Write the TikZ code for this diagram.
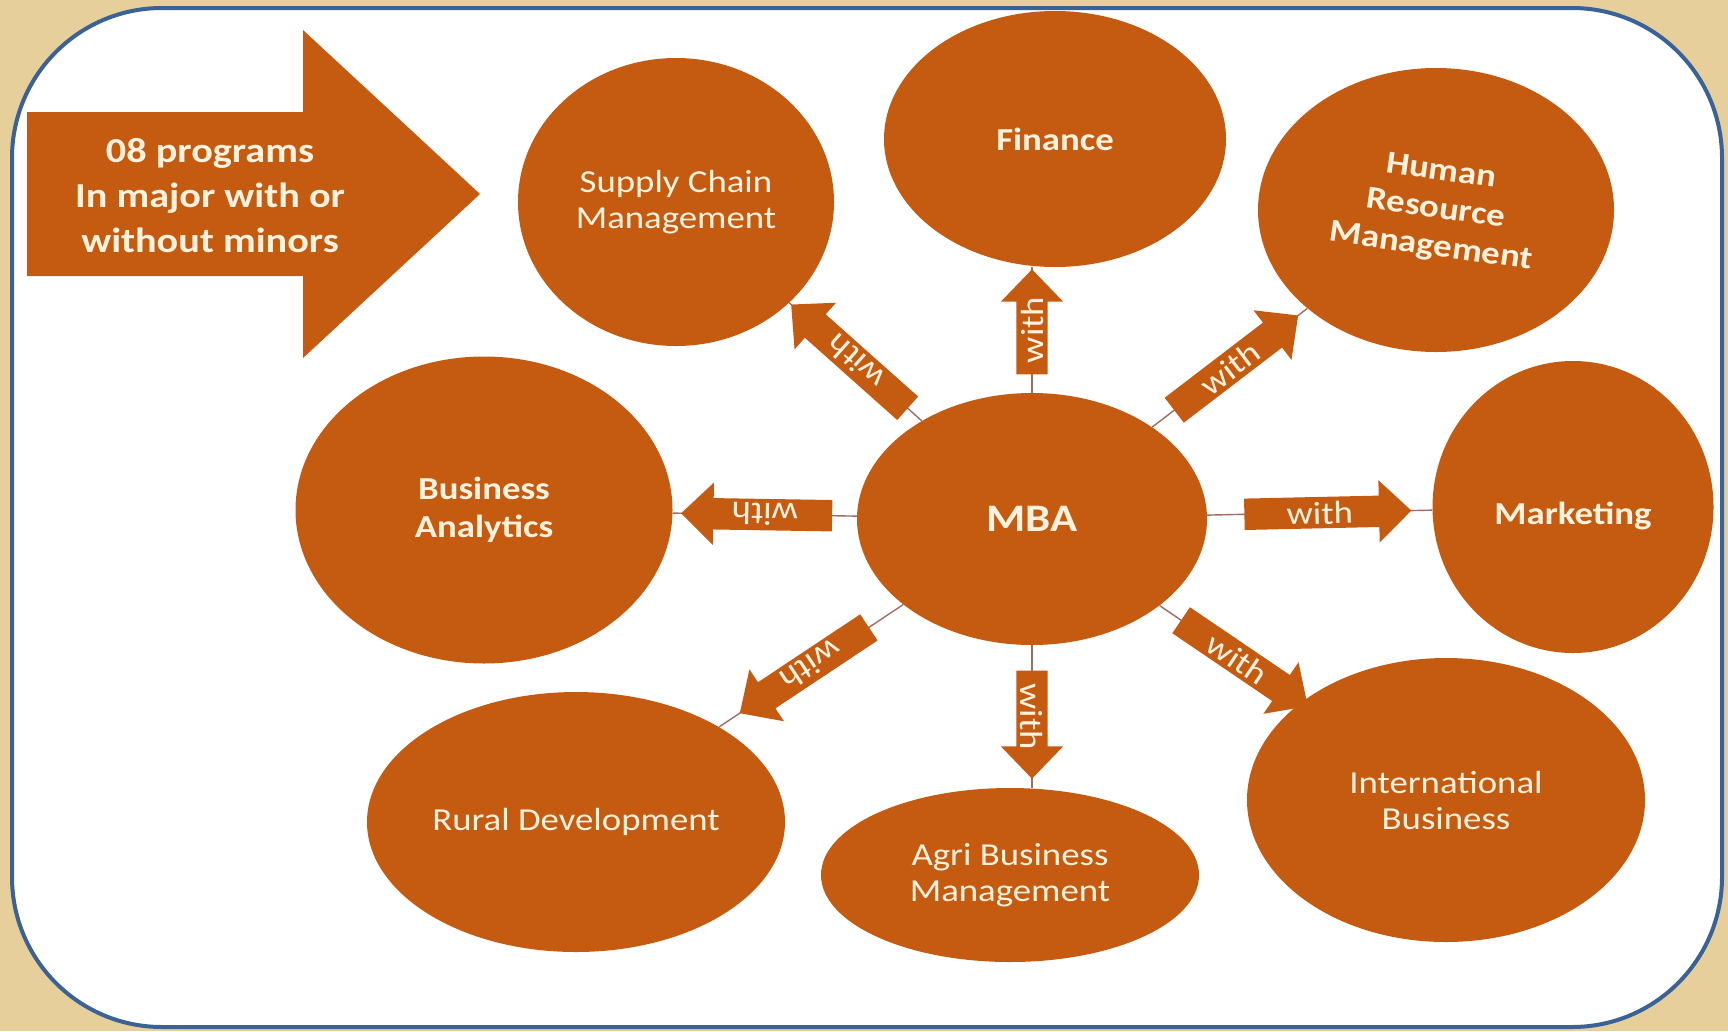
\documentclass[tikz,border=0pt]{standalone}
\usepackage{fontspec}
\setmainfont[FakeStretch=1.15]{Carlito}
\usetikzlibrary{shapes.geometric,shapes.arrows}
\definecolor{burnt}{HTML}{C55A11}
\definecolor{cream}{HTML}{FDF2DE}
\definecolor{frameblue}{HTML}{3B6296}
\definecolor{papyrus}{HTML}{E6CF9B}
\definecolor{linkline}{HTML}{9E6E62}
\begin{document}
\begin{tikzpicture}[x=1pt,y=-1pt,
  oval/.style={ellipse, fill=burnt, draw=none, inner sep=0pt, text=cream, align=center},
  reg/.style={font=\fontsize{32}{36}\selectfont},
  bld/.style={font=\bfseries\fontsize{32}{38}\selectfont},
  link/.style={draw=linkline, line width=1.4pt},
  witharrow/.style={shape=single arrow, fill=burnt, draw=none,
    single arrow head extend=15.5pt, single arrow head indent=0pt, single arrow tip angle=88,
    inner xsep=0pt, inner ysep=3.5pt, text height=23pt, text depth=0pt,
    text=cream, font=\fontsize{32}{32}\selectfont, sloped, allow upside down}
]
\fill[papyrus] (0,0) rectangle (1728,1031);
\path[use as bounding box] (0,0) rectangle (1728,1031);
\draw[frameblue, line width=4pt, fill=white, rounded corners=150pt] (12,8) rectangle (1722,1027);

% big intro arrow
\fill[burnt] (27,112) -- (303,112) -- (303,30) -- (480,194) -- (303,358) -- (303,276) -- (27,276) -- cycle;
\node[text=cream, align=center, font=\bfseries\fontsize{35}{45}\selectfont] (intro) at (210,196)
  {08 programs\\In major with or\\without minors};

% ellipses
\node[oval, font=\bfseries\fontsize{39}{42}\selectfont, minimum width=350pt, minimum height=252pt] (mba) at (1032,519) {MBA};
\node[oval, bld, minimum width=342pt, minimum height=256pt] (fin) at (1055,139) {Finance};
\node[oval, reg, minimum width=316pt, minimum height=288pt] (scm) at (676,202) {Supply Chain\\Management};
\node[oval, minimum width=356pt, minimum height=284pt] (hrm) at (1436,210) {};
\node[bld, text=cream, align=center, rotate=-8] (hrmtext) at (hrm.center) {Human\\Resource\\Management};
\node[oval, bld, text height=43pt, text depth=8pt, minimum width=281pt, minimum height=292pt] (mkt) at (1573,507) {Marketing};
\node[oval, bld, minimum width=377pt, minimum height=307pt] (ba) at (484,510) {Business\\Analytics};
\node[oval, reg, minimum width=418pt, minimum height=260pt] (rural) at (576,822) {Rural Development};
\node[oval, reg, minimum width=378pt, minimum height=174pt] (agri) at (1010,875) {Agri Business\\Management};
\node[oval, reg, minimum width=398pt, minimum height=284pt] (intl) at (1446,800) {International\\Business};

% connectors with block arrows
\draw[link] (mba) -- node[witharrow, midway, minimum height=156pt] (a1) {with} (scm);
\draw[link] (mba.north) -- node[witharrow, midway, minimum height=105pt] (a2) {with} (mba.north |- fin.south);
\draw[link] (mba) -- node[witharrow, midway, minimum height=156pt] (a3) {with} (hrm);
\draw[link] (mba) -- node[witharrow, midway, minimum height=167pt] (a4) {with} (mkt);
\draw[link] (mba) -- node[witharrow, midway, minimum height=151pt] (a5) {with} (ba);
\draw[link] (mba) -- node[witharrow, midway, minimum height=155pt] (a6) {with} (rural);
\draw[link] (mba.south) -- node[witharrow, midway, minimum height=108pt] (a7) {with} (mba.south |- agri.north);
\draw[link] (mba) -- node[witharrow, pos=0.55, minimum height=153pt] (a8) {with} (intl);
\end{tikzpicture}
\end{document}
